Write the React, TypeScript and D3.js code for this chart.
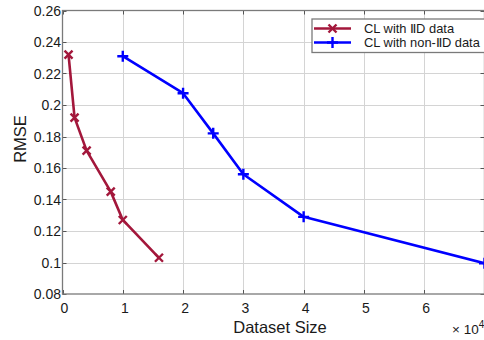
import * as d3 from "d3";
import React, { useEffect, useRef } from "react";

// dataset size in units of 10^4
const iidSize = [0.1, 0.2, 0.4, 0.8, 1.0, 1.6];
const iidRmse = [0.232, 0.192, 0.171, 0.145, 0.127, 0.103];
const nonIidSize = [1, 2, 2.5, 3, 4, 7];
const nonIidRmse = [0.231, 0.2075, 0.182, 0.156, 0.129, 0.0995];
const xTicks = [0, 1, 2, 3, 4, 5, 6, 7];
const yTicks = [0.08, 0.1, 0.12, 0.14, 0.16, 0.18, 0.2, 0.22, 0.24, 0.26];
const seriesNames = ["CL with \u2161D data", "CL with non-\u2161D data"];

const width = 484;
const height = 340;
const marginLeft = 62.5;
const marginRight = 0;
const marginTop = 10.5;
const marginBottom = 46;
const red = "#a3173b";
const blue = "#0000ff";
const font = "'Liberation Sans', Arial, sans-serif";

export default function App() {
  const svgRef = useRef<SVGSVGElement>(null);

  useEffect(() => {
    if (!svgRef.current) return;
    const svg = d3.select(svgRef.current);
    svg.selectAll("*").remove();

    const x = d3.scaleLinear([0, 7], [marginLeft, width - marginRight + 0.5]);
    const y = d3.scaleLinear([0.08, 0.26], [height - marginBottom, marginTop]);
    const x0 = x(0), x1 = x(7), y0 = y(0.08), y1 = y(0.26);

    svg.append("rect").attr("width", width).attr("height", height).attr("fill", "white");

    // grid
    const grid = svg.append("g").attr("stroke", "#d4d4d4").attr("stroke-width", 1);
    grid.selectAll("line.gx")
      .data(xTicks.slice(1, -1))
      .join("line")
      .attr("x1", (d) => Math.round(x(d)) + 0.5)
      .attr("x2", (d) => Math.round(x(d)) + 0.5)
      .attr("y1", y1)
      .attr("y2", y0);
    grid.selectAll("line.gy")
      .data(yTicks.slice(1, -1))
      .join("line")
      .attr("y1", (d) => Math.round(y(d)) + 0.5)
      .attr("y2", (d) => Math.round(y(d)) + 0.5)
      .attr("x1", x0)
      .attr("x2", x1);

    // tick marks (inward, all four sides)
    const ticks = svg.append("g").attr("stroke", "#555").attr("stroke-width", 1);
    xTicks.forEach((d) => {
      const px = Math.round(x(d)) + 0.5;
      ticks.append("line").attr("x1", px).attr("x2", px).attr("y1", y0).attr("y2", y0 - 4);
      ticks.append("line").attr("x1", px).attr("x2", px).attr("y1", y1).attr("y2", y1 + 4);
    });
    yTicks.forEach((d) => {
      const py = Math.round(y(d)) + 0.5;
      ticks.append("line").attr("x1", x0).attr("x2", x0 + 4).attr("y1", py).attr("y2", py);
      ticks.append("line").attr("x1", x1).attr("x2", x1 - 4).attr("y1", py).attr("y2", py);
    });

    // box
    svg.append("rect")
      .attr("x", x0)
      .attr("y", y1)
      .attr("width", x1 - x0)
      .attr("height", y0 - y1)
      .attr("fill", "none")
      .attr("stroke", "#7a7a7a")
      .attr("stroke-width", 1.3);

    // tick labels
    svg.append("g")
      .selectAll("text")
      .data(xTicks.slice(0, -1))
      .join("text")
      .attr("x", (d) => x(d) + 2)
      .attr("y", y0 + 19)
      .attr("text-anchor", "middle")
      .attr("font-family", font)
      .attr("font-size", 14)
      .attr("fill", "#1a1a1a")
      .text((d) => String(d));
    svg.append("g")
      .selectAll("text")
      .data(yTicks)
      .join("text")
      .attr("x", x0 - 1.5)
      .attr("y", (d) => y(d) + 5)
      .attr("text-anchor", "end")
      .attr("font-family", font)
      .attr("font-size", 14)
      .attr("fill", "#1a1a1a")
      .text((d) => d3.format("~g")(d));

    // axis labels
    svg.append("text")
      .attr("x", 280)
      .attr("y", 333)
      .attr("text-anchor", "middle")
      .attr("font-family", font)
      .attr("font-size", 16.5)
      .attr("fill", "#1a1a1a")
      .text("Dataset Size");
    svg.append("text")
      .attr("transform", `translate(26,139) rotate(-90)`)
      .attr("text-anchor", "middle")
      .attr("font-family", font)
      .attr("font-size", 16.5)
      .attr("fill", "#1a1a1a")
      .text("RMSE");
    const exp = svg.append("text")
      .attr("x", 452)
      .attr("y", 334)
      .attr("font-family", font)
      .attr("font-size", 13.5)
      .attr("fill", "#1a1a1a");
    exp.append("tspan").text("\u00d7 10");
    exp.append("tspan").attr("dy", -6).attr("font-size", 10).text("4");

    // series
    const line = d3.line<[number, number]>().x((d) => x(d[0])).y((d) => y(d[1]));
    const iid: [number, number][] = iidSize.map((s, i) => [s, iidRmse[i]]);
    const nonIid: [number, number][] = nonIidSize.map((s, i) => [s, nonIidRmse[i]]);

    const plot = svg.append("g");
    plot.append("path").datum(iid).attr("d", line).attr("fill", "none")
      .attr("stroke", red).attr("stroke-width", 2.6).attr("stroke-linejoin", "round");
    plot.append("path").datum(nonIid).attr("d", line).attr("fill", "none")
      .attr("stroke", blue).attr("stroke-width", 2.6).attr("stroke-linejoin", "round");

    const m = 4;
    const cross = (g: any, cx: number, cy: number, color: string) => {
      g.append("path")
        .attr("d", `M${cx - m},${cy - m}L${cx + m},${cy + m}M${cx - m},${cy + m}L${cx + m},${cy - m}`)
        .attr("stroke", color).attr("stroke-width", 2.4);
    };
    const plus = (g: any, cx: number, cy: number, color: string) => {
      g.append("path")
        .attr("d", `M${cx - 5.5},${cy}L${cx + 5.5},${cy}M${cx},${cy - 5.5}L${cx},${cy + 5.5}`)
        .attr("stroke", color).attr("stroke-width", 2.4);
    };
    iid.forEach((d) => cross(plot, x(d[0]), y(d[1]), red));
    nonIid.forEach((d) => plus(plot, x(d[0]), y(d[1]), blue));

    // legend
    const lg = svg.append("g");
    lg.append("rect")
      .attr("x", 312)
      .attr("y", 19)
      .attr("width", 180)
      .attr("height", 33.5)
      .attr("fill", "white")
      .attr("stroke", "#7a7a7a")
      .attr("stroke-width", 1.3);
    const colors = [red, blue];
    seriesNames.forEach((name, i) => {
      const ly = 28.5 + i * 14;
      lg.append("line").attr("x1", 314).attr("x2", 351).attr("y1", ly).attr("y2", ly)
        .attr("stroke", colors[i]).attr("stroke-width", 2.6);
      if (i === 0) cross(lg, 332.5, ly, red);
      else plus(lg, 332.5, ly, blue);
      lg.append("text")
        .attr("x", 364)
        .attr("y", ly + 4.5)
        .attr("font-family", font)
        .attr("font-size", 12.9)
        .attr("fill", "#1a1a1a")
        .text(name);
    });
  }, []);

  return (
    <svg
      ref={svgRef}
      width={width}
      height={height}
      style={{ position: "absolute", left: 0, top: 0, display: "block" }}
    />
  );
}
